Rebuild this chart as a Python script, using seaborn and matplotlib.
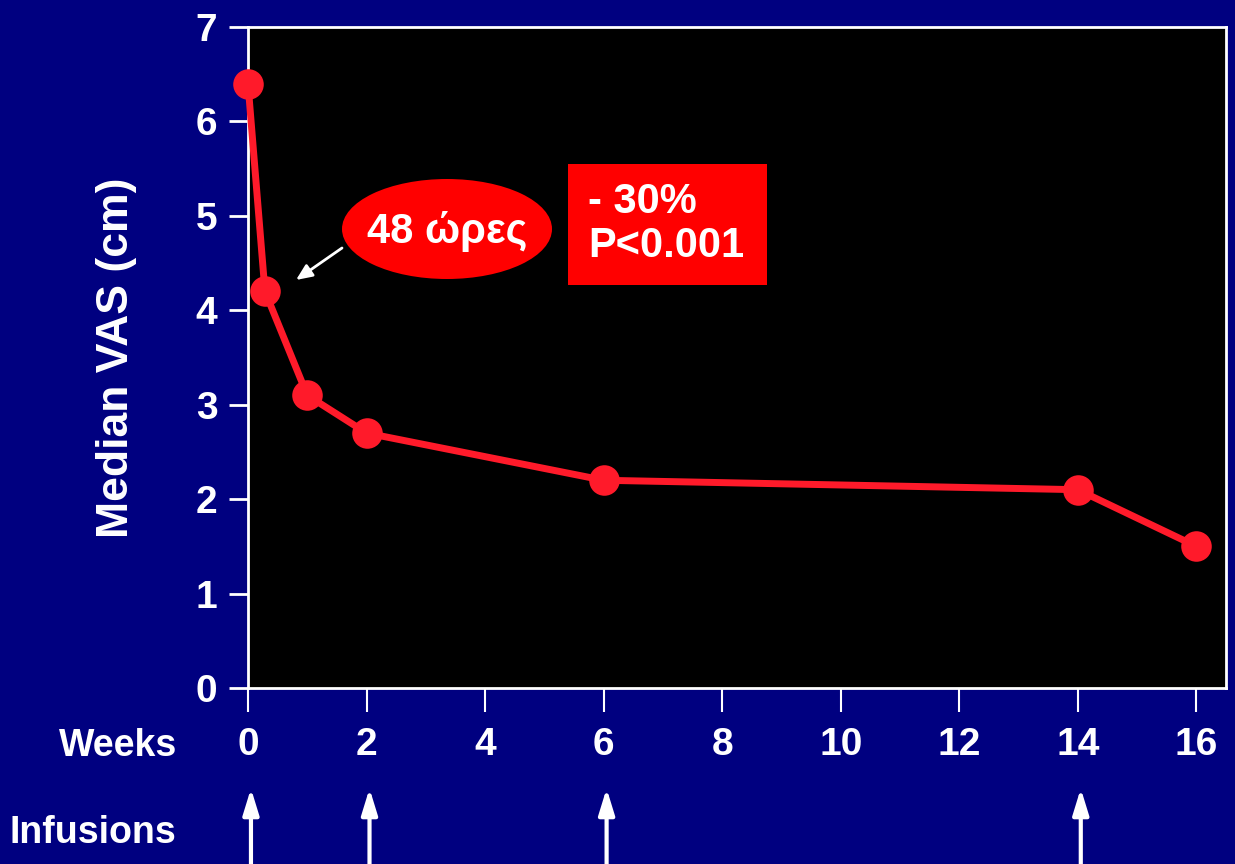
import matplotlib
matplotlib.use("Agg")
import matplotlib.pyplot as plt
from matplotlib.patches import Ellipse, Rectangle
import seaborn as sns
import pandas as pd

weeks = [0, 0.286, 1, 2, 6, 14, 16]
vas = [6.4, 4.2, 3.1, 2.7, 2.2, 2.1, 1.5]
x_ticks = [0, 2, 4, 6, 8, 10, 12, 14, 16]
y_ticks = [0, 1, 2, 3, 4, 5, 6, 7]
infusion_weeks = [0, 2, 6, 14]

sns.set_theme(style="white")
plt.rcParams['font.family'] = ['Liberation Sans', 'DejaVu Sans']

NAVY = "#000080"
RED = "#ff1a2a"

fig = plt.figure(figsize=(12.35, 8.64), dpi=100, facecolor=NAVY)
ax = fig.add_axes([248/1235, 1-688/864, (1226-248)/1235, (688-27)/864])
ax.set_facecolor("black")

df = pd.DataFrame({"Weeks": weeks, "VAS": vas})
sns.lineplot(data=df, x="Weeks", y="VAS", ax=ax, color=RED, linewidth=5,
             marker="o", markersize=22, markeredgewidth=0, markerfacecolor=RED,
             estimator=None, sort=False, clip_on=False, zorder=5)

ax.set_xlim(0, 16.5)
ax.set_ylim(0, 7)
ax.set_xticks(x_ticks)
ax.set_yticks(y_ticks)
ax.set_xticklabels([str(t) for t in x_ticks])
ax.set_yticklabels([str(t) for t in y_ticks])

for s in ax.spines.values():
    s.set_color("white")
    s.set_linewidth(2)
ax.tick_params(axis="x", colors="white", length=17, width=1.5, direction="out",
               pad=11, labelsize=28, bottom=True)
ax.tick_params(axis="y", colors="white", length=14, width=2, direction="out",
               pad=8, labelsize=28, left=True)
for lab in ax.get_xticklabels() + ax.get_yticklabels():
    lab.set_fontweight("bold")
    lab.set_color("white")

ax.set_xlabel("")
ax.set_ylabel("Median VAS (cm)", color="white", fontsize=32, fontweight="bold", labelpad=42)

fig.text(118/1235, 1-746/864, "Weeks", color="white", fontsize=27, fontweight="bold",
         ha="center", va="center")
fig.text(93/1235, 1-833/864, "Infusions", color="white", fontsize=27, fontweight="bold",
         ha="center", va="center")

# infusion arrows
for w in infusion_weeks:
    ax.annotate("", xy=(w + 0.05, -0.152), xytext=(w + 0.05, -0.27),
                xycoords=ax.get_xaxis_transform(), textcoords=ax.get_xaxis_transform(),
                annotation_clip=False,
                arrowprops=dict(arrowstyle="-|>,head_length=1.3,head_width=0.4",
                                color="white", lw=3, shrinkA=0, shrinkB=0))

# 48 hours ellipse
fig.patches.append(Ellipse((447/1235, 1-229/864), 210/1235, 100/864, transform=fig.transFigure,
                           facecolor="#ff0000", edgecolor="none", zorder=6))
fig.text(447/1235, 1-231/864, "48 ώρες", color="white", fontsize=30, fontweight="bold",
         ha="center", va="center", zorder=7)
ax.annotate("", xy=(296/1235, 1-280/864), xytext=(342/1235, 1-248/864),
            xycoords="figure fraction", textcoords="figure fraction",
            arrowprops=dict(arrowstyle="-|>,head_length=0.8,head_width=0.35",
                            color="white", lw=2, shrinkA=0, shrinkB=0))

# red box
fig.patches.append(Rectangle((568/1235, 1-285/864), 199/1235, 121/864,
                             transform=fig.transFigure, facecolor="#ff0000",
                             edgecolor="none", zorder=6))
fig.text(588/1235, 1-224/864, "- 30%\nP<0.001", color="white", fontsize=30,
         fontweight="bold", ha="left", va="center", linespacing=1.1, zorder=7)

fig.savefig("out.png", dpi=100, facecolor=NAVY)
